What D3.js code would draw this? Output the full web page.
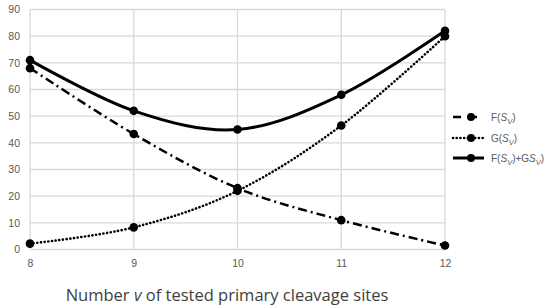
<!DOCTYPE html>
<html>
<head>
<meta charset="utf-8">
<script src="https://cdn.jsdelivr.net/npm/d3@7"></script>
<style>
  body { margin: 0; background: #fff; }
  svg { display: block; }
</style>
</head>
<body>
<script>
// chart data
const sites = [8, 9, 10, 11, 12];
const fValues = [68, 43.3, 23, 11, 1.5];
const gValues = [2.2, 8.3, 22, 46.5, 80];
const sumValues = [71, 52, 45, 58, 82];
const yTicks = [0, 10, 20, 30, 40, 50, 60, 70, 80, 90];

const width = 547, height = 308;
const margin = { left: 30, right: 102, top: 9.5, bottom: 58.5 };

const svg = d3.select("body").append("svg")
  .attr("width", width)
  .attr("height", height);

const x = d3.scaleLinear().domain([8, 12]).range([margin.left, width - margin.right]);
const y = d3.scaleLinear().domain([0, 90]).range([height - margin.bottom, margin.top]);

const grid = "#d9d9d9";
const labelColor = "#595959";
const font = "'Liberation Sans', Arial, sans-serif";

// horizontal gridlines
svg.append("g")
  .selectAll("line")
  .data(yTicks)
  .join("line")
  .attr("x1", x(8)).attr("x2", x(12))
  .attr("y1", d => y(d)).attr("y2", d => y(d))
  .attr("stroke", grid)
  .attr("stroke-width", 1.3);

// vertical gridlines
svg.append("g")
  .selectAll("line")
  .data(sites)
  .join("line")
  .attr("x1", d => x(d)).attr("x2", d => x(d))
  .attr("y1", y(0)).attr("y2", y(90))
  .attr("stroke", grid)
  .attr("stroke-width", 1.3);

// y tick labels
const yAxis = d3.axisLeft(y).tickValues(yTicks).tickSize(0).tickPadding(10);
svg.append("g")
  .attr("transform", `translate(${x(8)},0)`)
  .call(yAxis)
  .call(g => g.select(".domain").remove())
  .call(g => g.selectAll("text")
    .attr("fill", labelColor)
    .style("font", `10.5px ${font}`));

// x tick labels
const xAxis = d3.axisBottom(x).tickValues(sites).tickFormat(d3.format("d")).tickSize(0).tickPadding(10);
svg.append("g")
  .attr("transform", `translate(0,${y(0)})`)
  .call(xAxis)
  .call(g => g.select(".domain").remove())
  .call(g => g.selectAll("text")
    .attr("fill", labelColor)
    .style("font", `10.5px ${font}`));

// axis title
const title = svg.append("text")
  .attr("x", 227)
  .attr("y", 301)
  .attr("text-anchor", "middle")
  .attr("fill", "#404040")
  .style("font", `16.5px 'Open Sans', sans-serif`);
title.append("tspan").text("Number ");
title.append("tspan").attr("font-style", "italic").text("v");
title.append("tspan").text(" of tested primary cleavage sites");

const smooth = d3.line()
  .x(d => x(d[0]))
  .y(d => y(d[1]))
  .curve(d3.curveCatmullRom.alpha(0));

const series = [
  { key: "F", values: fValues, dash: "9,4,2,4", cap: "butt", width: 2.5 },
  { key: "G", values: gValues, dash: "0.1,3.6", cap: "round", width: 2.6 },
  { key: "S", values: sumValues, dash: null, cap: "butt", width: 3 }
];

series.forEach(s => {
  const pts = sites.map((v, i) => [v, s.values[i]]);
  svg.append("path")
    .datum(pts)
    .attr("fill", "none")
    .attr("stroke", "#000")
    .attr("stroke-width", s.width)
    .attr("stroke-linecap", s.cap)
    .attr("stroke-dasharray", s.dash)
    .attr("d", smooth);
  svg.append("g")
    .selectAll("circle")
    .data(pts)
    .join("circle")
    .attr("cx", d => x(d[0]))
    .attr("cy", d => y(d[1]))
    .attr("r", 4.3)
    .attr("fill", "#000");
});

// legend
const legendY = [117, 138, 158];
function subS(t) {
  t.append("tspan").attr("font-style", "italic").text("S");
  t.append("tspan").attr("font-style", "italic").attr("font-size", "7.5px").attr("dy", 3).text("V");
  t.append("tspan").attr("dy", -3).text(")");
}
series.forEach((s, i) => {
  const g = svg.append("g").attr("transform", `translate(453,${legendY[i]})`);
  g.append("line")
    .attr("x1", 0).attr("x2", 31)
    .attr("stroke", "#000")
    .attr("stroke-width", s.width)
    .attr("stroke-linecap", s.cap)
    .attr("stroke-dasharray", s.key === "F" ? "8,8" : s.dash);
  g.append("circle").attr("cx", 18).attr("r", 4).attr("fill", "#000");
  const t = g.append("text")
    .attr("x", 38)
    .attr("y", 4)
    .attr("fill", labelColor)
    .style("font", `10px ${font}`);
  if (s.key === "F") { t.append("tspan").text("F("); subS(t); }
  else if (s.key === "G") { t.append("tspan").text("G("); subS(t); }
  else { t.append("tspan").text("F("); subS(t); t.append("tspan").text("+G"); subS(t); }
});
</script>
</body>
</html>
